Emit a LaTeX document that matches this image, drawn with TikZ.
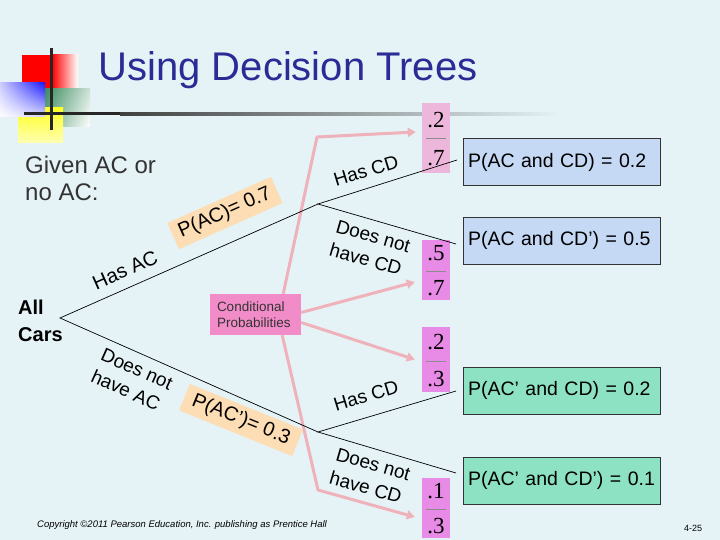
\documentclass[tikz,border=0pt]{standalone}
\usepackage{fontspec}
\setmainfont{Liberation Sans}
\newfontfamily\digitfont{Liberation Serif}
\usetikzlibrary{arrows.meta,shadings}
\definecolor{bg}{RGB}{229,243,246}
\definecolor{titleblue}{RGB}{43,43,150}
\definecolor{peach}{RGB}{253,221,180}
\definecolor{resblue}{RGB}{197,217,244}
\definecolor{resgreen}{RGB}{142,226,196}
\definecolor{condpink}{RGB}{242,140,200}
\definecolor{parrowc}{RGB}{240,178,186}
\definecolor{fraclight}{RGB}{237,183,219}
\definecolor{fracmag}{RGB}{231,139,231}
\definecolor{lgreen}{RGB}{60,140,95}
\begin{document}
\begin{tikzpicture}[x=1pt,y=-1pt,
  lbl/.style={inner sep=0pt, font=\fontsize{19}{24}\selectfont},
  problbl/.style={fill=peach, inner xsep=7pt, inner ysep=5pt, font=\fontsize{20}{24}\selectfont},
  resbox/.style={draw=black!80, line width=0.8pt, minimum width=197pt, minimum height=47pt,
     inner xsep=5pt, text width=187pt, align=left, font=\fontsize{19.5}{23}\selectfont},
  fracbox/.style={minimum width=28pt, inner sep=0pt},
  digit/.style={inner sep=0pt, font=\digitfont\fontsize{23}{26}\selectfont},
  fracline/.style={black!45, line width=0.8pt},
  tree/.style={line width=0.7pt, black},
  parrow/.style={line width=3pt, parrowc, line join=round, -{Triangle[length=8pt,width=9pt]}}]
\useasboundingbox (0,0) rectangle (720,540);
\fill[bg] (0,0) rectangle (720,540);
% logo
\fill[red] (22,55) rectangle (52,88);
\shade[left color=red, right color=white] (52,55) rectangle (78,88);
\shade[upper left=lgreen, lower left=lgreen!70!white, upper right=lgreen!25!white, lower right=white] (45,89) rectangle (90,127);
\shade[top color=yellow!85!white, bottom color=yellow!30!white] (18,108) rectangle (63,143);
\shade[upper left=blue!20!white, upper right=blue!90!white, lower left=white, lower right=blue!15!white] (0,83) rectangle (45,117);
\draw[line width=3pt, black!85] (51,48) -- (51,130);
\fill[black!85] (24,112.5) rectangle (120,115.5);
\shade[left color=black!75, middle color=black!40, right color=bg] (120,112.5) rectangle (560,115.5);
% title
\node[font=\fontsize{40}{44}\selectfont, text=titleblue, inner sep=0pt] (title) at (288,70) {Using Decision Trees};
% given
\node[anchor=north west, align=left, inner sep=0pt, text=black!80, font=\fontsize{24}{27}\selectfont] (given) at (25,156) {Given AC or\\no AC:};
% all cars
\node[anchor=west, align=left, inner sep=0pt, font=\bfseries\fontsize{20}{27}\selectfont] (all) at (18,321) {All\\Cars};
% fraction boxes
\node[fracbox, fill=fraclight, minimum height=70pt] (f1) at (436,138) {};
\node[fracbox, fill=fracmag, minimum height=60pt] (f2) at (436,270) {};
\node[fracbox, fill=fracmag, minimum height=65pt] (f3) at (436,359.5) {};
\node[fracbox, fill=fracmag, minimum height=60pt] (f4) at (436,508) {};
\node[digit] (f1a) at (436,120) {.2};
\node[digit] (f1b) at (436,158) {.7};
\draw[fracline] (426,138) -- (446,138);
\node[digit] (f2a) at (436,253) {.5};
\node[digit] (f2b) at (436,288) {.7};
\draw[fracline] (426,271) -- (446,271);
\node[digit] (f3a) at (436,342) {.2};
\node[digit] (f3b) at (436,379) {.3};
\draw[fracline] (426,361) -- (446,361);
\node[digit] (f4a) at (436,491) {.1};
\node[digit] (f4b) at (436,526) {.3};
\draw[fracline] (426,509) -- (446,509);
% conditional probabilities
\node[fill=condpink, minimum width=91pt, minimum height=41pt, inner xsep=7pt, text width=77pt, align=left,
  text=black!80, font=\fontsize{13.5}{16}\selectfont] (cp) at (255.5,314.5) {Conditional\\Probabilities};
\coordinate (b1) at (317,137);
\coordinate (b4) at (318,490);
\draw[parrow] ([xshift=-18pt]cp.north east) -- (b1) -- ([xshift=-6pt,yshift=6pt]f1.west);
\draw[parrow] ([yshift=2pt]cp.east) -- ([xshift=-7pt,yshift=-12pt]f2.west);
\draw[parrow] ([yshift=-8pt]cp.east) -- ([xshift=-7pt]f3.west);
\draw[parrow] ([xshift=-19pt]cp.south east) -- (b4) -- ([xshift=-7pt,yshift=-9pt]f4.west);
% probability labels
\node[problbl, rotate=24] (pac) at (225,213) {P(AC)= 0.7};
\node[problbl, rotate=-22, inner xsep=9pt] (pnac) at (241,420) {P(AC’)= 0.3};
% tree
\coordinate (root) at (60,318);
\coordinate (n1) at (318,204);
\coordinate (n2) at (318,432);
\coordinate (e1) at (457,160);
\coordinate (e2) at (456,244);
\coordinate (e3) at (456,391);
\coordinate (e4) at (456,473);
\draw[tree] (n1) -- (root) -- (n2);
\draw[tree] (e1) -- (n1) -- (e2);
\draw[tree] (e3) -- (n2) -- (e4);
% branch labels
\node[lbl, rotate=24, font=\fontsize{20}{24}\selectfont] (hasac) at (125,270) {Has AC};
\node[lbl, rotate=-24, align=left] (noac) at (132,380) {Does not\\have AC};
\node[lbl, rotate=17] (hascd1) at (366,171) {Has CD};
\node[lbl, rotate=-16, align=left] (nocd1) at (370,248) {Does not\\have CD};
\node[lbl, rotate=17] (hascd2) at (366,396) {Has CD};
\node[lbl, rotate=-16, align=left] (nocd2) at (370,476) {Does not\\have CD};
% results
\node[resbox, fill=resblue] (r1) at (561.5,162) {P(AC and CD) = 0.2};
\node[resbox, fill=resblue] (r2) at (561.5,240.5) {P(AC and CD’) = 0.5};
\node[resbox, fill=resgreen] (r3) at (561.5,390.5) {P(AC’ and CD) = 0.2};
\node[resbox, fill=resgreen] (r4) at (561.5,480.5) {P(AC’ and CD’) = 0.1};
% footer
\node[anchor=west, inner sep=0pt, font=\itshape\fontsize{9.5}{11}\selectfont] (copy) at (37,525) {Copyright ©2011 Pearson Education, Inc. publishing as Prentice Hall};
\node[inner sep=0pt, font=\fontsize{9}{11}\selectfont] (pg) at (693,528) {4-25};
\end{tikzpicture}
\end{document}
